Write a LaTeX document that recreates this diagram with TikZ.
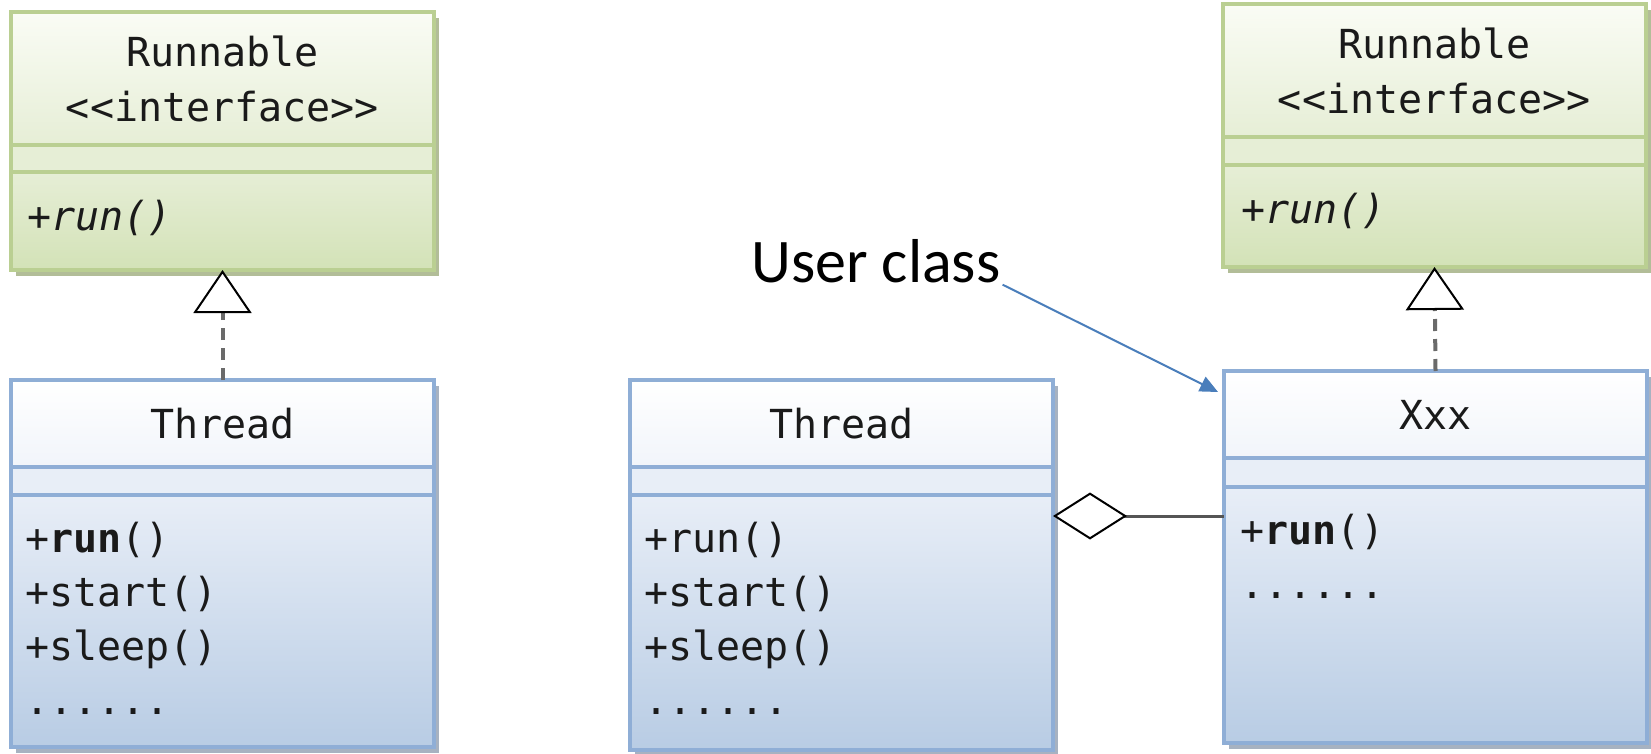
\documentclass[tikz,border=0pt]{standalone}
\usepackage{fontspec}
\setmonofont{DejaVu Sans Mono}
\newfontfamily\notefont{Carlito}
\usepackage{tikz}
\usetikzlibrary{arrows.meta, positioning, backgrounds, calc}

\definecolor{greenedge}{HTML}{BACF92}
\definecolor{greentop}{HTML}{FAFCF5}
\definecolor{greenmid}{HTML}{E6EED6}
\definecolor{greenlow}{HTML}{D3E2B7}
\definecolor{greenshade}{HTML}{B2BD98}
\definecolor{blueedge}{HTML}{8FAED6}
\definecolor{bluetop}{HTML}{FFFFFF}
\definecolor{bluemid}{HTML}{E8EEF7}
\definecolor{bluelow}{HTML}{B8CCE4}
\definecolor{blueshade}{HTML}{A7B2C1}
\definecolor{linkgray}{HTML}{6A6A6A}
\definecolor{notelink}{HTML}{4A7EBB}
\definecolor{textdark}{HTML}{1A1A1A}

\begin{document}
\begin{tikzpicture}[x=1pt, y=-1pt,
    part/.style={draw, line width=3.5pt, minimum width=423pt, inner sep=0pt,
                 outer sep=0pt, anchor=north west, align=center, text=textdark,
                 font=\fontsize{40}{55}\selectfont\ttfamily},
    ghead/.style={part, draw=greenedge, top color=greentop, bottom color=greenmid},
    gattr/.style={part, draw=greenedge, top color=greenmid, bottom color=greenmid},
    gops/.style={part, draw=greenedge, top color=greenmid, bottom color=greenlow},
    bhead/.style={part, draw=blueedge, top color=bluetop, bottom color=bluemid!60!white},
    battr/.style={part, draw=blueedge, top color=bluemid, bottom color=bluemid},
    bops/.style={part, draw=blueedge, top color=bluemid, bottom color=bluelow},
    members/.style={inner sep=0pt, align=left, text=textdark,
                    font=\fontsize{40}{54}\selectfont\ttfamily},
    gshadow/.style={fill=greenshade},
    bshadow/.style={fill=blueshade},
    real/.style={draw=linkgray, line width=4pt, dash pattern=on 12pt off 8pt,
                 -{Triangle[length=43pt, width=58pt, color=black, fill=white, line width=2pt]}},
    aggr/.style={draw=linkgray!80!black, line width=3pt,
                 {Diamond[length=74pt, width=47pt, color=black, fill=white, line width=2pt]}-},
    note/.style={inner sep=2pt, anchor=base west, text=black,
                 font=\fontsize{62}{70}\selectfont\notefont},
    notearrow/.style={draw=notelink, line width=2pt, -{Triangle[length=18pt, width=16pt]}}
  ]
    \useasboundingbox (0,0) rectangle (1651,754);

    % left: Thread implements Runnable
    \node[ghead, minimum height=133pt] (run1h) at (11,12) {Runnable\\<\kern0pt<interface>\kern0pt>};
    \node[gattr, minimum height=27pt, below=0pt of run1h] (run1a) {};
    \node[gops, minimum height=98pt, below=0pt of run1a] (run1o) {};
    \node[members, below right=28pt and 16pt of run1o.north west] (run1m) {\textit{+run()}};

    \node[bhead, minimum height=87pt] (thr1h) at (11,380) {Thread};
    \node[battr, minimum height=28pt, below=0pt of thr1h] (thr1a) {};
    \node[bops, minimum height=252pt, below=0pt of thr1a] (thr1o) {};
    \node[members, below right=27pt and 14pt of thr1o.north west] (thr1m)
      {+\textbf{run}()\\+start()\\+sleep()\\......};

    % right: Thread holds a user class
    \node[bhead, minimum height=87pt] (thr2h) at (630,380) {Thread};
    \node[battr, minimum height=28pt, below=0pt of thr2h] (thr2a) {};
    \node[bops, minimum height=255pt, below=0pt of thr2a] (thr2o) {};
    \node[members, below right=27pt and 14pt of thr2o.north west] (thr2m)
      {+run()\\+start()\\+sleep()\\......};

    \node[ghead, minimum height=133pt] (run2h) at (1223,4) {Runnable\\<\kern0pt<interface>\kern0pt>};
    \node[gattr, minimum height=28pt, below=0pt of run2h] (run2a) {};
    \node[gops, minimum height=102pt, below=0pt of run2a] (run2o) {};
    \node[members, below right=28pt and 18pt of run2o.north west] (run2m) {\textit{+run()}};

    \node[bhead, minimum height=87pt] (xxxh) at (1224,371) {Xxx};
    \node[battr, minimum height=29pt, below=0pt of xxxh] (xxxa) {};
    \node[bops, minimum height=256pt, below=0pt of xxxa] (xxxo) {};
    \node[members, below right=27pt and 16pt of xxxo.north west] (xxxm)
      {+\textbf{run}()\\......};

    \node[note] (user) at (749,282) {User class};

    % shadows
    \begin{scope}[on background layer]
      \fill[gshadow] ($(run1h.north west)+(5,6)$) rectangle ($(run1o.south east)+(5,6)$);
      \fill[gshadow] ($(run2h.north west)+(5,6)$) rectangle ($(run2o.south east)+(5,6)$);
      \fill[bshadow] ($(thr1h.north west)+(5,6)$) rectangle ($(thr1o.south east)+(5,6)$);
      \fill[bshadow] ($(thr2h.north west)+(5,6)$) rectangle ($(thr2o.south east)+(5,6)$);
      \fill[bshadow] ($(xxxh.north west)+(5,6)$) rectangle ($(xxxo.south east)+(5,6)$);
    \end{scope}

    \coordinate (agg) at (0,516);
    \draw[real] (thr1h.north) -- (run1o.south);
    \draw[real] (xxxh.north) -- (run2o.south);
    \draw[aggr] (thr2o.east |- agg) -- (xxxo.west |- agg);
    \draw[notearrow] (user.south east) -- ([shift={(-6,21)}]xxxh.north west);
  \end{tikzpicture}
\end{document}
